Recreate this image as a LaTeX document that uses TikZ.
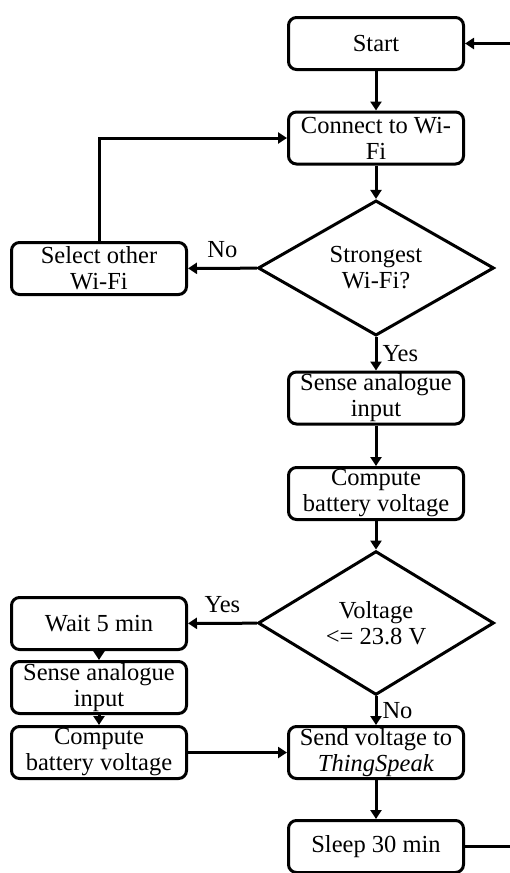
\documentclass[tikz,border=0pt]{standalone}
\usepackage{fontspec}
\setmainfont{Liberation Serif}
\usetikzlibrary{shapes.geometric,arrows.meta,positioning}

\begin{document}
\begin{tikzpicture}[
    x=1pt, y=-1pt,
    every node/.style={font=\fontsize{24.5}{26}\selectfont},
    box/.style={draw, line width=3pt, rounded corners=8pt, minimum width=175pt, minimum height=52pt, inner sep=0pt, align=center},
    decision/.style={draw, diamond, line width=3pt, minimum width=236pt, minimum height=119pt, inner sep=0pt, align=center},
    flow/.style={line width=3pt, -{Triangle[length=9pt,width=11pt]}},
    plain/.style={line width=3pt},
    lbl/.style={inner sep=5pt},
    toplbl/.style={inner sep=9pt}
  ]
  \useasboundingbox (0,0) rectangle (510,873);
  % process boxes
  \foreach \bname/\bx/\by/\btext in {start/376/43.5/Start, connect/376/138/{Connect to Wi-\\Fi}, select/99/268.5/{Select other\\Wi-Fi}, sense/376/398/{Sense analogue\\input}, compute/376/493.5/{Compute\\battery voltage}, wait/99/623.5/{Wait 5 min}, senseb/99/687.5/{Sense analogue\\input}, computeb/99/752.5/{Compute\\battery voltage}, send/376/752.5/{Send voltage to\\\textit{ThingSpeak}}, sleep/376/846.5/{Sleep 30 min}}{%
    \node[box] (\bname) at (\bx,\by) {\btext};
  }
  % decisions
  \node[decision] (strongest) at (376,268) {Strongest\\Wi-Fi?};
  \node[decision] (voltage) at (376,623) {Voltage\\<= 23.8 V};
  \coordinate (loopin) at (510,43.5);
  \coordinate (loopout) at (510,846.5);

  \draw[flow] (start) -- (connect);
  \draw[flow] (connect) -- (strongest);
  \draw[flow] (strongest) -- node[toplbl, above] {No} (select);
  \draw[flow] (select.north) |- (connect.west);
  \draw[flow] (strongest) -- node[lbl, right] {Yes} (sense);
  \draw[flow] (sense) -- (compute);
  \draw[flow] (compute) -- (voltage);
  \draw[flow] (voltage) -- node[toplbl, above] {Yes} (wait);
  \draw[flow] (voltage) -- node[lbl, right] {No} (send);
  \draw[flow] (wait) -- (senseb);
  \draw[flow] (senseb) -- (computeb);
  \draw[flow] (computeb) -- (send);
  \draw[flow] (send) -- (sleep);
  \draw[plain] (sleep) -- (loopout);
  \draw[flow] (loopin) -- (start);
\end{tikzpicture}
\end{document}
